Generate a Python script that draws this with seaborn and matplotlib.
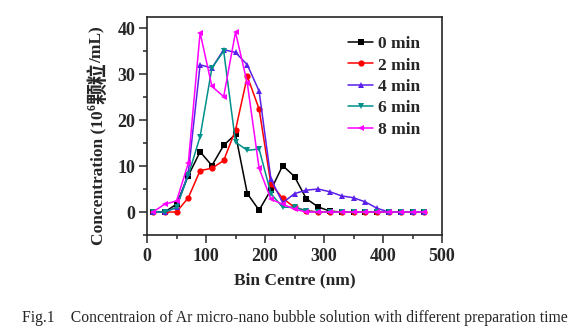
import numpy as np
import pandas as pd
import seaborn as sns
import matplotlib
matplotlib.use("Agg")
import matplotlib.pyplot as plt
from matplotlib.ticker import MultipleLocator
from matplotlib.transforms import IdentityTransform

bin_centre = [10, 30, 50, 70, 90, 110, 130, 150, 170, 190, 210, 230, 250, 270,
              290, 310, 330, 350, 370, 390, 410, 430, 450, 470]
c0 = [0, 0, 1.7, 7.9, 13.1, 10.1, 14.5, 16.9, 4.0, 0.4, 4.8, 10.1, 7.7, 2.9,
      1.1, 0.2, 0, 0, 0, 0, 0, 0, 0, 0]
c2 = [0, 0, 0, 3.1, 9.0, 9.5, 11.2, 17.8, 29.5, 22.4, 6.1, 3.0, 1.0, 0.3,
      0, 0, 0, 0, 0, 0, 0, 0, 0, 0]
c4 = [0, 0, 1.0, 8.5, 32.0, 31.3, 35.3, 34.7, 32.0, 26.3, 7.2, 2.0, 4.0, 4.75,
      5.0, 4.4, 3.5, 3.1, 2.2, 0.8, 0, 0, 0, 0]
c6 = [0, 0, 1.0, 8.0, 16.4, 31.3, 35.0, 15.2, 13.4, 13.7, 4.0, 1.0, 1.1, 0.2,
      0, 0, 0, 0, 0, 0, 0, 0, 0, 0]
c8 = [0, 1.7, 2.4, 10.6, 39.0, 27.3, 25.1, 39.1, 28.0, 9.5, 2.8, 1.7, 0.6, 0,
      0, 0, 0, 0, 0, 0, 0, 0, 0, 0]
labels = ["0 min", "2 min", "4 min", "6 min", "8 min"]
series = [c0, c2, c4, c6, c8]

colors = ["#000000", "#FF0000", "#5A1FE8", "#00908A", "#FF00FF"]
markers = ["s", "o", "^", "v", "<"]

sns.set_style("ticks")
plt.rcParams['font.family'] = ['Liberation Serif', 'Noto Sans CJK SC']
plt.rcParams['font.weight'] = 'bold'

W, H = 573, 334
fig = plt.figure(figsize=(W / 100, H / 100), dpi=100)
ax = fig.add_axes([147 / W, 1 - 235 / H, (442 - 147) / W, (235 - 17) / H])

for lab, vals, col, mk in zip(labels, series, colors, markers):
    df = pd.DataFrame({"x": bin_centre, "y": vals})
    sns.lineplot(data=df, x="x", y="y", ax=ax, color=col, marker=mk,
                 markersize=4.5, markeredgewidth=0, linewidth=1.1, label=lab)

ax.set_xlim(0, 500)
ax.set_ylim(-5, 42.4)
ax.xaxis.set_major_locator(MultipleLocator(100))
ax.xaxis.set_minor_locator(MultipleLocator(50))
ax.yaxis.set_major_locator(MultipleLocator(10))
ax.yaxis.set_minor_locator(MultipleLocator(5))
ax.tick_params(which='major', direction='out', length=5.5, width=1.1, labelsize=13)
ax.tick_params(axis='x', which='major', pad=4)
ax.tick_params(axis='y', which='major', pad=3)
ax.tick_params(which='minor', direction='out', length=3, width=1.1)
for s in ax.spines.values():
    s.set_linewidth(1.2)
for t in ax.get_xticklabels() + ax.get_yticklabels():
    t.set_fontweight('bold')

ax.set_xlabel("Bin Centre (nm)", fontsize=12.5, fontweight='bold', labelpad=5)
ax.set_ylabel("")

leg = ax.legend(loc='upper left', frameon=False, fontsize=12.5, handlelength=1.45,
                handletextpad=0.25, labelspacing=0.3, borderpad=0, borderaxespad=0,
                bbox_to_anchor=((348 - 147) / 295, 1 - (36 - 17) / 218))
for t in leg.get_texts():
    t.set_fontweight('bold')

# y-axis label composed of pieces (Latin serif + superscript + CJK)
renderer = fig.canvas.get_renderer()
xc = 98
ypos = H - 245
pieces = [("Concentration (10", ['Liberation Serif'], 12.5, 0),
          ("6", ['Liberation Serif'], 8.5, -5),
          ("颗粒", ['Noto Sans CJK SC'], 15, 0),
          ("/mL)", ['Liberation Serif'], 12.5, 0)]
for s, fam, fs, dx in pieces:
    t = fig.text(xc + dx, ypos, s, rotation=90, ha='center', va='bottom',
                 transform=IdentityTransform(), family=fam, fontsize=fs,
                 fontweight='bold')
    bb = t.get_window_extent(renderer)
    ypos = bb.y1

fig.text(22 / W, 1 - 318 / H,
         "Fig.1    Concentraion of Ar micro-nano bubble solution with different preparation time",
         fontsize=11.3, fontweight='normal', ha='left', va='center',
         family=['Liberation Serif'])

fig.savefig("out.png", dpi=100)
